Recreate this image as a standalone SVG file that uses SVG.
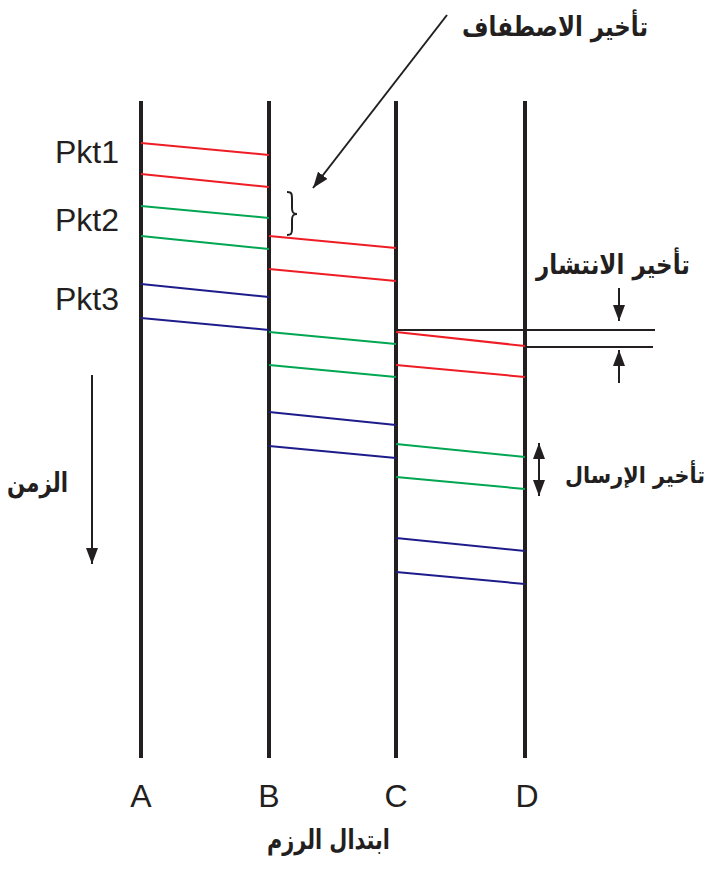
<svg xmlns="http://www.w3.org/2000/svg" width="720" height="869" viewBox="0 0 720 869">
<style>
.lane{stroke:#231f20;stroke-width:4;fill:none}
.r{stroke:#ee1c24;stroke-width:2;fill:none}
.g{stroke:#00a651;stroke-width:2;fill:none}
.b{stroke:#1e1c8a;stroke-width:2;fill:none}
.k{stroke:#231f20;stroke-width:2;fill:none}
.lbl{font-family:"Liberation Sans",Arial,sans-serif;font-size:32px;fill:#231f20}
.ar{font-family:"DejaVu Sans","Noto Sans",sans-serif;font-size:27px;font-weight:bold;fill:#231f20}
</style>
<defs>
<marker id="ah" viewBox="0 0 16 12" refX="16" refY="6" markerWidth="8" markerHeight="6" markerUnits="strokeWidth" orient="auto-start-reverse">
<path d="M0,0 L16,6 L0,12 z" fill="#231f20"/>
</marker>
</defs>
<rect width="720" height="869" fill="#fff"/>
<g id="lanes">
<g id="node-A"><line class="lane" x1="141" y1="101" x2="141" y2="758"/><text class="lbl" x="141" y="807" text-anchor="middle">A</text></g>
<g id="node-B"><line class="lane" x1="269" y1="101" x2="269" y2="758"/><text class="lbl" x="269" y="807" text-anchor="middle">B</text></g>
<g id="node-C"><line class="lane" x1="396" y1="101" x2="396" y2="758"/><text class="lbl" x="396" y="807" text-anchor="middle">C</text></g>
<g id="node-D"><line class="lane" x1="525" y1="101" x2="525" y2="758"/><text class="lbl" x="527" y="807" text-anchor="middle">D</text></g>
</g>
<g id="labels">
<text class="lbl" x="55" y="163">Pkt1</text>
<text class="lbl" x="55" y="231">Pkt2</text>
<text class="lbl" x="55" y="310">Pkt3</text>
<text class="ar" x="462" y="36" textLength="186" lengthAdjust="spacingAndGlyphs">تأخير الاصطفاف</text>
<text class="ar" x="536" y="274" textLength="154" lengthAdjust="spacingAndGlyphs">تأخير الانتشار</text>
<text class="ar" x="565" y="483" font-size="23" textLength="140" lengthAdjust="spacingAndGlyphs" style="font-size:23px">تأخير الإرسال</text>
<text class="ar" x="7" y="492" textLength="61" lengthAdjust="spacingAndGlyphs">الزمن</text>
<text class="ar" x="267" y="849" textLength="123" lengthAdjust="spacingAndGlyphs">ابتدال الرزم</text>
</g>
<g id="connectors">
<line class="r" x1="141" y1="143" x2="269" y2="155"/>
<line class="r" x1="141" y1="174" x2="269" y2="187"/>
<line class="g" x1="141" y1="206" x2="269" y2="218"/>
<line class="g" x1="141" y1="236" x2="269" y2="249"/>
<line class="b" x1="141" y1="284" x2="269" y2="297"/>
<line class="b" x1="141" y1="318" x2="269" y2="330"/>
<line class="r" x1="269" y1="236" x2="396" y2="248"/>
<line class="r" x1="269" y1="269" x2="396" y2="281"/>
<line class="g" x1="269" y1="332" x2="396" y2="344"/>
<line class="g" x1="269" y1="365" x2="396" y2="377"/>
<line class="b" x1="269" y1="412" x2="396" y2="425"/>
<line class="b" x1="269" y1="446" x2="396" y2="458"/>
<line class="r" x1="396" y1="332" x2="525" y2="346"/>
<line class="r" x1="396" y1="365" x2="525" y2="377"/>
<line class="g" x1="396" y1="444" x2="525" y2="457"/>
<line class="g" x1="396" y1="477" x2="525" y2="489"/>
<line class="b" x1="396" y1="538" x2="525" y2="551"/>
<line class="b" x1="396" y1="572" x2="525" y2="584"/>
<line class="k" x1="396" y1="330" x2="655" y2="330"/>
<line class="k" x1="525" y1="347" x2="653" y2="347"/>
<line class="k" x1="619" y1="288" x2="619" y2="321" marker-end="url(#ah)"/>
<line class="k" x1="619" y1="383" x2="619" y2="350" marker-end="url(#ah)"/>
<line class="k" x1="539" y1="443" x2="539" y2="496" marker-start="url(#ah)" marker-end="url(#ah)"/>
<line class="k" x1="92" y1="375" x2="92" y2="564" marker-end="url(#ah)"/>
<line class="k" x1="447" y1="15" x2="313" y2="188" marker-end="url(#ah)"/>
<path class="k" d="M287,192 C292,192 292,194 292,200 L292,208 C292,212 293,214 297,214 C293,214 292,216 292,220 L292,229 C292,234 291,235 287,235"/>
</g>
</svg>
